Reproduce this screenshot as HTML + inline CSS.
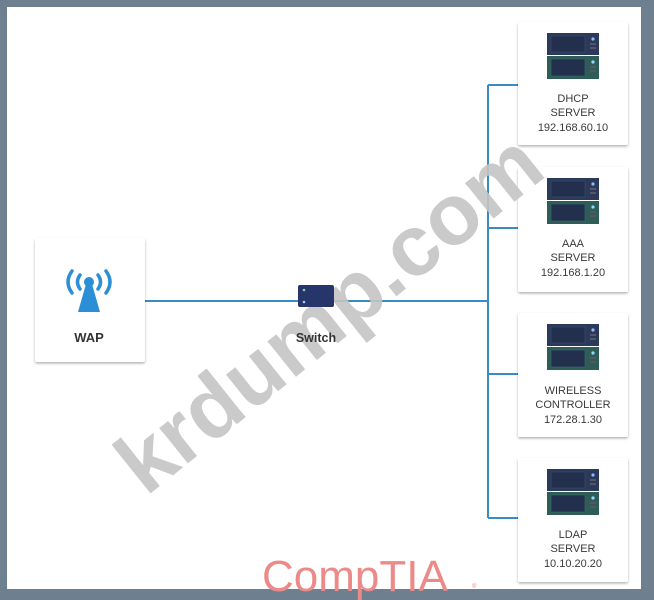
<!DOCTYPE html>
<html><head><meta charset="utf-8"><style>
html,body{margin:0;padding:0;background:#6e7f90;}
svg{display:block;}
text{font-family:"Liberation Sans",sans-serif;}
</style></head><body>
<svg width="654" height="600" viewBox="0 0 654 600" xmlns="http://www.w3.org/2000/svg">
<defs>
<filter id="sh" x="-10%" y="-10%" width="120%" height="120%"><feDropShadow dx="0" dy="1.5" stdDeviation="1.2" flood-color="#000" flood-opacity="0.3"/></filter>
<g id="srv">
<rect x="0" y="0" width="52" height="22" fill="#2b3a5a"/>
<rect x="4" y="3" width="34" height="16" fill="#22304d" stroke="#3b4d70" stroke-width="0.6"/>
<circle cx="46" cy="6" r="1.6" fill="#8fb8ff"/><rect x="43" y="10" width="6" height="2" fill="#556"/><rect x="43" y="14" width="6" height="2" fill="#556"/>
<rect x="0" y="23" width="52" height="23" fill="#2e5d57"/>
<rect x="4" y="26" width="34" height="17" fill="#22304d" stroke="#3b6a66" stroke-width="0.6"/>
<circle cx="46" cy="29" r="1.6" fill="#8fd8ff"/><rect x="43" y="33" width="6" height="2" fill="#556"/><rect x="43" y="37" width="6" height="2" fill="#556"/>
</g>
</defs>
<rect x="7" y="7" width="634" height="582" fill="#fff"/>
<g stroke="#3a8ac4" stroke-width="2" fill="none">
<line x1="145" y1="301" x2="488" y2="301"/>
<line x1="488" y1="85" x2="488" y2="518"/>
<line x1="488" y1="85" x2="518" y2="85"/>
<line x1="488" y1="228" x2="518" y2="228"/>
<line x1="488" y1="374" x2="518" y2="374"/>
<line x1="488" y1="518" x2="518" y2="518"/>
</g>
<g filter="url(#sh)" fill="#fff">
<rect x="35" y="238" width="110" height="124" rx="2"/>
<rect x="518" y="22" width="110" height="123" rx="2"/>
<rect x="518" y="167" width="110" height="125" rx="2"/>
<rect x="518" y="313" width="110" height="124" rx="2"/>
<rect x="518" y="458" width="110" height="124" rx="2"/>
</g>
<!-- WAP icon -->
<g fill="#2a8fd6" stroke="#2a8fd6">
<circle cx="89" cy="282" r="5" stroke="none"/>
<polygon points="86,284 92,284 100,312 78,312" stroke="none"/>
<g fill="none" stroke-width="3.5" stroke-linecap="round">
<path d="M80 275 Q75 282 80 289"/><path d="M98 275 Q103 282 98 289"/>
<path d="M72 271 Q64 282 72 293"/><path d="M106 271 Q114 282 106 293"/>
</g></g>
<text x="89" y="342" text-anchor="middle" font-size="13" font-weight="bold" fill="#333">WAP</text>
<!-- servers -->
<use href="#srv" x="547" y="33"/>
<use href="#srv" x="547" y="178"/>
<use href="#srv" x="547" y="324"/>
<use href="#srv" x="547" y="469"/>
<g font-size="11" fill="#3a3a3a" text-anchor="middle">
<text x="573" y="102">DHCP</text><text x="573" y="116">SERVER</text><text x="573" y="131">192.168.60.10</text>
<text x="573" y="247">AAA</text><text x="573" y="261">SERVER</text><text x="573" y="276">192.168.1.20</text>
<text x="573" y="394">WIRELESS</text><text x="573" y="408">CONTROLLER</text><text x="573" y="423">172.28.1.30</text>
<text x="573" y="538">LDAP</text><text x="573" y="552">SERVER</text><text x="573" y="567">10.10.20.20</text>
</g>
<!-- watermark -->
<text x="0" y="0" transform="translate(333,318) rotate(-38.7)" text-anchor="middle" dominant-baseline="middle" font-size="86" font-weight="bold" fill="#c4c4c4" fill-opacity="0.9">krdump.com</text>
<!-- switch -->
<rect x="298" y="285" width="36" height="22" rx="2" fill="#26356a"/>
<circle cx="304" cy="290" r="1.3" fill="#9c9"/><circle cx="304" cy="302" r="1.3" fill="#9cf"/>
<text x="316" y="342" text-anchor="middle" font-size="12.5" font-weight="bold" fill="#333">Switch</text>
<text x="262" y="591" font-size="44" fill="#eb8a88">CompTIA</text>
<text x="472" y="588" font-size="6" fill="#eb8a88">®</text>
</svg>
</body></html>
